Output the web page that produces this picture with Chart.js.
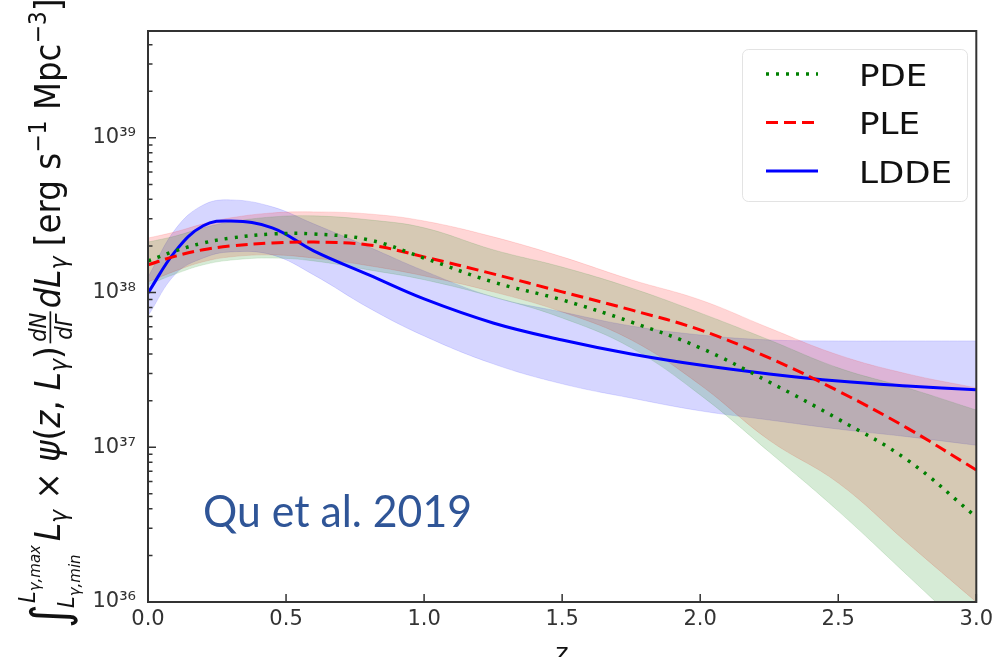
<!DOCTYPE html>
<html>
<head>
<meta charset="utf-8">
<script src="https://cdn.jsdelivr.net/npm/chart.js@4.4.1/dist/chart.umd.min.js"></script>
<style>
  html, body { margin: 0; padding: 0; background: #fff; }
  #wrap { width: 998px; height: 657px; }
</style>
</head>
<body>
<div id="wrap"><canvas id="chart" width="998" height="657"></canvas></div>
<script>
// redshift grid shared by every curve
const redshift = [0, 0.1, 0.2, 0.3, 0.45, 0.6, 0.8, 1.0, 1.25, 1.5, 1.75, 2.0, 2.25, 2.5, 2.75, 3.0];

// PDE: best fit and 1-sigma band
const pde     = [1.60e38, 1.86e38, 2.09e38, 2.25e38, 2.39e38, 2.39e38, 2.19e38, 1.67e38, 1.17e38, 8.96e37, 6.45e37, 4.39e37, 2.64e37, 1.52e37, 8.28e36, 3.54e36];
const pdeHigh = [2.12e38, 2.32e38, 2.62e38, 2.86e38, 3.08e38, 3.13e38, 2.95e38, 2.62e38, 1.89e38, 1.46e38, 1.07e38, 7.38e37, 4.94e37, 3.26e37, 2.42e37, 1.74e37];
const pdeLow  = [1.12e38, 1.32e38, 1.51e38, 1.62e38, 1.67e38, 1.60e38, 1.40e38, 1.21e38, 9.37e37, 6.85e37, 4.39e37, 2.18e37, 9.32e36, 3.87e36, 1.49e36, 5.68e35];

// PLE
const ple     = [1.51e38, 1.72e38, 1.89e38, 2.00e38, 2.09e38, 2.12e38, 2.03e38, 1.70e38, 1.32e38, 1.01e38, 7.72e37, 5.73e37, 3.78e37, 2.31e37, 1.33e37, 7.13e36];
const pleHigh = [2.25e38, 2.47e38, 2.78e38, 3.04e38, 3.27e38, 3.32e38, 3.22e38, 2.90e38, 2.29e38, 1.70e38, 1.21e38, 8.96e37, 5.90e37, 3.95e37, 2.98e37, 2.42e37];
const pleLow  = [1.17e38, 1.38e38, 1.58e38, 1.70e38, 1.75e38, 1.67e38, 1.49e38, 1.28e38, 1.01e38, 7.49e37, 4.94e37, 2.53e37, 1.11e37, 5.88e36, 2.41e36, 1.00e36];

// LDDE
const ldde     = [9.94e37, 1.86e38, 2.70e38, 2.90e38, 2.62e38, 1.86e38, 1.30e38, 9.09e37, 6.36e37, 4.94e37, 4.01e37, 3.40e37, 2.98e37, 2.68e37, 2.49e37, 2.35e37];
const lddeHigh = [1.26e38, 2.58e38, 3.68e38, 3.97e38, 3.58e38, 2.78e38, 1.97e38, 1.38e38, 9.37e37, 7.49e37, 6.08e37, 5.32e37, 4.94e37, 4.87e37, 4.87e37, 4.87e37];
const lddeLow  = [7.06e37, 1.32e38, 1.67e38, 1.83e38, 1.75e38, 1.30e38, 7.95e37, 5.24e37, 3.46e37, 2.57e37, 2.08e37, 1.72e37, 1.50e37, 1.31e37, 1.17e37, 1.03e37];

const xTicks = [0, 0.5, 1.0, 1.5, 2.0, 2.5, 3.0];
const yTicks = [1e36, 1e37, 1e38, 1e39];

const pts = arr => arr.map((v, i) => ({ x: redshift[i], y: v }));
const SUP = '⁰¹²³⁴⁵⁶⁷⁸⁹';
const sup = n => String(n).split('').map(d => SUP[+d]).join('');

const reg = s => `${s}px "DejaVu Sans"`;
const ital = s => `italic ${s}px "DejaVu Sans"`;

function line(label, data, color, dash, width) {
  return {
    label, data: pts(data), borderColor: color, borderDash: dash, borderWidth: width,
    borderCapStyle: 'butt', pointRadius: 0, fill: false, tension: 0.4, order: 0, isMain: true
  };
}
function band(data, color, edge, fill) {
  return {
    label: '', data: pts(data), borderColor: edge, borderWidth: 1, backgroundColor: color,
    pointRadius: 0, fill: fill, tension: 0.4, order: 2
  };
}

// small helper: draws a run of text pieces and returns the new x
function drawRun(ctx, items, x) {
  items.forEach(it => {
    ctx.font = it.f;
    ctx.fillText(it.t, x, it.dy || 0);
    x += ctx.measureText(it.t).width;
  });
  return x;
}

const axesPlugin = {
  id: 'axesDecor',
  afterDatasetsDraw(chart) {
    const { ctx, chartArea: a, scales: { x, y } } = chart;
    ctx.save();
    ctx.strokeStyle = '#333';
    ctx.lineWidth = 1.5;
    // inward ticks
    ctx.beginPath();
    xTicks.forEach(v => {
      const px = x.getPixelForValue(v);
      ctx.moveTo(px, a.bottom);
      ctx.lineTo(px, a.bottom - 8);
    });
    for (let e = 36; e <= 39; e++) {
      for (let k = 1; k <= 9; k++) {
        const v = k * Math.pow(10, e);
        if (v > y.max) break;
        const py = y.getPixelForValue(v);
        ctx.moveTo(a.left, py);
        ctx.lineTo(a.left + (k === 1 ? 8 : 4.5), py);
      }
    }
    ctx.stroke();
    // frame
    ctx.lineWidth = 2;
    ctx.strokeRect(a.left, a.top, a.right - a.left, a.bottom - a.top);
    ctx.restore();
  },
  afterDraw(chart) {
    const { ctx, chartArea: a } = chart;

    // legend
    ctx.save();
    ctx.strokeStyle = 'rgba(220,220,220,0.8)';
    ctx.lineWidth = 1;
    ctx.beginPath();
    ctx.roundRect(742.5, 49.5, 225, 152, 6);
    ctx.stroke();
    const mains = chart.data.datasets.filter(d => d.isMain);
    mains.forEach((d, i) => {
      const cy = 74 + i * 48.5;
      ctx.strokeStyle = d.borderColor;
      ctx.lineWidth = d.borderWidth;
      ctx.setLineDash(d.borderDash || []);
      ctx.beginPath();
      ctx.moveTo(766, cy);
      ctx.lineTo(818, cy);
      ctx.stroke();
      ctx.setLineDash([]);
      ctx.save();
      ctx.translate(859, cy + 11.5);
      ctx.scale(1.1, 1);
      ctx.fillStyle = '#111';
      ctx.font = reg(31);
      ctx.fillText(d.label, 0, 0);
      ctx.restore();
    });
    ctx.restore();

    // x axis title
    ctx.save();
    ctx.fillStyle = '#111';
    ctx.font = reg(25);
    ctx.textAlign = 'center';
    ctx.fillText('z', (a.left + a.right) / 2, 661);
    ctx.restore();

    // y axis title, rotated
    const F = 32.5, S = 22;
    ctx.save();
    ctx.fillStyle = '#111';
    ctx.translate(60, 628);
    ctx.rotate(-Math.PI / 2);
    ctx.scale(1, 1.1);
    let x = drawRun(ctx, [{ t: '∫', f: reg(46), dy: 6 }], 0);
    const upEnd = drawRun(ctx, [{ t: 'L', f: ital(21), dy: -23 }, { t: 'γ,max', f: ital(15), dy: -18 }], x + 1);
    const loEnd = drawRun(ctx, [{ t: 'L', f: ital(21), dy: 13 }, { t: 'γ,min', f: ital(15), dy: 18 }], x - 4);
    x = Math.max(upEnd, loEnd) + 4;
    x = drawRun(ctx, [
      { t: 'L', f: ital(F) }, { t: 'γ', f: ital(S), dy: 6 },
      { t: ' × ', f: reg(F) }, { t: 'ψ', f: ital(F) }, { t: '(', f: reg(F) },
      { t: 'z', f: ital(F) }, { t: ', ', f: reg(F) }, { t: 'L', f: ital(F) },
      { t: 'γ', f: ital(S), dy: 6 }, { t: ')', f: reg(F) }
    ], x) + 3;
    ctx.font = ital(21);
    const wN = ctx.measureText('dN').width;
    const wD = ctx.measureText('dΓ').width;
    const fw = Math.max(wN, wD) + 3;
    ctx.fillText('dN', x + (fw - wN) / 2, -13);
    ctx.fillText('dΓ', x + (fw - wD) / 2, 11);
    ctx.fillRect(x, -9.5, fw, 1.5);
    x += fw + 3;
    drawRun(ctx, [
      { t: 'd', f: ital(F) }, { t: 'L', f: ital(F) }, { t: 'γ', f: ital(S), dy: 6 },
      { t: ' [erg s', f: reg(F) }, { t: '−1', f: reg(S), dy: -13 },
      { t: ' Mpc', f: reg(F) }, { t: '−3', f: reg(S), dy: -13 }, { t: ']', f: reg(F) }
    ], x);
    ctx.restore();

    // citation note
    ctx.save();
    ctx.fillStyle = '#2F5597';
    ctx.font = '44px Lato';
    const w = ctx.measureText('Qu et al. 2019').width;
    ctx.translate(203, 527);
    ctx.scale(269 / w, 1);
    ctx.fillText('Qu et al. 2019', 0, 0);
    ctx.restore();
  }
};

new Chart(document.getElementById('chart'), {
  type: 'line',
  data: {
    datasets: [
      line('PDE', pde, '#008000', [3, 7], 3.5),
      line('PLE', ple, '#ff0000', [12, 6], 3),
      line('LDDE', ldde, '#0000ff', [], 3),
      band(pdeHigh, 'rgba(0,128,0,0.16)', 'rgba(0,128,0,0.12)', '+1'),
      band(pdeLow, 'rgba(0,128,0,0.16)', 'rgba(0,128,0,0.12)', false),
      band(pleHigh, 'rgba(255,0,0,0.16)', 'rgba(255,0,0,0.12)', '+1'),
      band(pleLow, 'rgba(255,0,0,0.16)', 'rgba(255,0,0,0.12)', false),
      band(lddeHigh, 'rgba(0,0,255,0.16)', 'rgba(0,0,255,0.12)', '+1'),
      band(lddeLow, 'rgba(0,0,255,0.16)', 'rgba(0,0,255,0.12)', false)
    ]
  },
  options: {
    responsive: false,
    animation: false,
    layout: { padding: { top: 31, right: 20, left: 0, bottom: 0 } },
    plugins: { legend: { display: false }, tooltip: { enabled: false } },
    scales: {
      x: {
        type: 'linear', min: 0, max: 3,
        grid: { display: false, drawTicks: false },
        border: { display: false },
        afterBuildTicks: s => { s.ticks = xTicks.map(v => ({ value: v })); },
        afterFit: s => { s.height = 55; },
        ticks: {
          callback: v => v.toFixed(1), autoSkip: false, maxRotation: 0,
          font: { family: 'DejaVu Sans', size: 21 }, color: '#333', padding: 5
        }
      },
      y: {
        type: 'logarithmic', min: 1e36, max: 4.9e39,
        grid: { display: false, drawTicks: false },
        border: { display: false },
        afterBuildTicks: s => { s.ticks = yTicks.map(v => ({ value: v })); },
        afterFit: s => { s.width = 148; },
        ticks: {
          callback: v => '10' + sup(Math.round(Math.log10(v))),
          font: { family: 'DejaVu Sans', size: 21 }, color: '#333', padding: 12
        }
      }
    }
  },
  plugins: [axesPlugin]
});
</script>
</body>
</html>
